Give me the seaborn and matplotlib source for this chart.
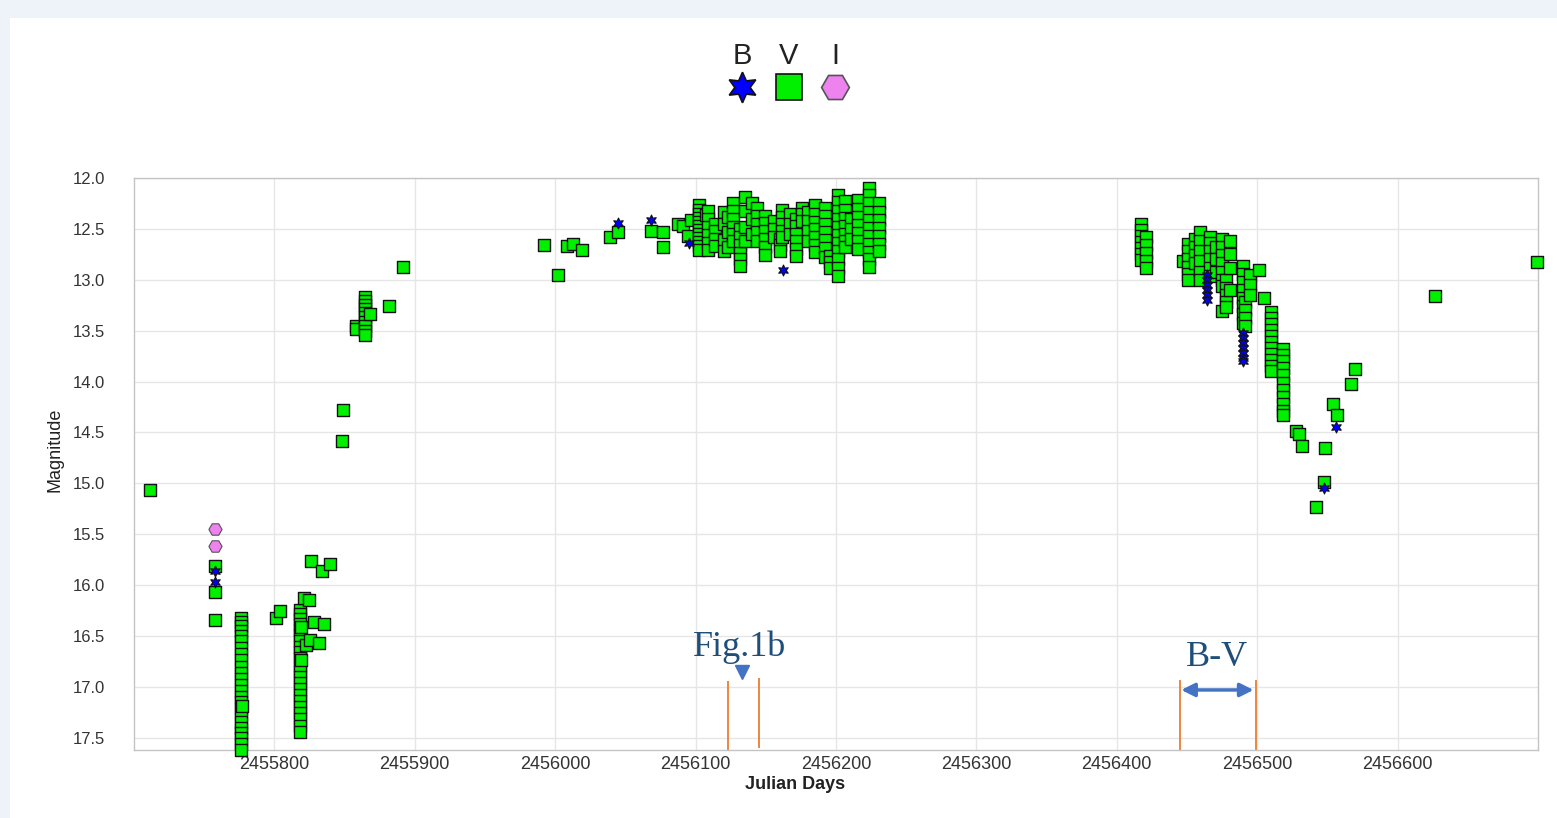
import matplotlib
matplotlib.use("Agg")
import matplotlib.pyplot as plt
import pandas as pd
import seaborn as sns
from matplotlib.patches import Rectangle
from matplotlib.ticker import FixedLocator, FixedFormatter

# ---------------- photometry (Julian Day, magnitude) ----------------
# V band, grouped by night: one JD per night and the magnitudes measured that night
v_2011_jd = [2455711.7, 2455758.0, 2455776.3, 2455777.2, 2455801.4, 2455803.8,
             2455818.0, 2455819.2, 2455820.9, 2455822.8, 2455824.4, 2455825.6,
             2455826.3, 2455828.0, 2455831.5, 2455834.0, 2455835.6, 2455839.9,
             2455848.2, 2455848.9, 2455858.4, 2455864.8, 2455867.8, 2455881.6,
             2455891.3]
v_2011_mag = [[15.07], [15.81, 16.07, 16.34],
              [16.32, 16.36, 16.40, 16.45, 16.50, 16.55, 16.62, 16.68, 16.74, 16.80,
               16.86, 16.92, 16.98, 17.04, 17.10, 17.15, 17.22, 17.28, 17.34, 17.40,
               17.45, 17.50, 17.56, 17.62],
              [17.19], [16.32], [16.25],
              [16.24, 16.28, 16.33, 16.38, 16.44, 16.49, 16.55, 16.61, 16.66, 16.72,
               16.78, 16.84, 16.90, 16.96, 17.02, 17.08, 17.14, 17.20, 17.26, 17.32,
               17.38, 17.44],
              [16.41, 16.74], [16.13], [16.59], [16.15], [16.54], [15.76], [16.36],
              [16.57], [15.86], [16.38], [15.79], [14.58], [14.28], [13.45, 13.48],
              [13.17, 13.21, 13.25, 13.29, 13.33, 13.37, 13.41, 13.45, 13.50, 13.54],
              [13.34], [13.26], [12.87]]

v_2012_jd = [2455991.7, 2456002.3, 2456008.3, 2456012.6, 2456019.4, 2456039.1,
             2456045.0, 2456068.1, 2456076.6, 2456077.1, 2456087.3, 2456091.3,
             2456094.9, 2456096.8, 2456102.5, 2456107.5, 2456108.5, 2456114.0,
             2456120.0, 2456123.0, 2456126.7, 2456131.6, 2456135.5, 2456140.5,
             2456143.8, 2456149.5, 2456156.0, 2456160.0, 2456161.5, 2456167.0,
             2456171.5, 2456175.8, 2456180.0, 2456185.0, 2456192.2, 2456195.7,
             2456201.4, 2456206.4, 2456211.0, 2456215.7, 2456223.5, 2456230.6]
v_2012_mag = [[12.66], [12.95], [12.67], [12.65], [12.71], [12.58], [12.53], [12.52],
              [12.53], [12.68], [12.45], [12.47], [12.57], [12.41],
              [12.27, 12.31, 12.35, 12.39, 12.43, 12.47, 12.51, 12.55, 12.59, 12.63,
               12.67, 12.71],
              [12.36],
              [12.32, 12.40, 12.48, 12.56, 12.64, 12.71],
              [12.45, 12.52, 12.60, 12.67],
              [12.33, 12.45, 12.61, 12.72],
              [12.38, 12.53, 12.68],
              [12.25, 12.32, 12.40, 12.48, 12.55, 12.62],
              [12.50, 12.58, 12.66, 12.74, 12.80, 12.86],
              [12.19, 12.32, 12.48, 12.62],
              [12.25, 12.40, 12.55],
              [12.29, 12.37, 12.45, 12.53, 12.62],
              [12.37, 12.44, 12.52, 12.60, 12.68, 12.76],
              [12.42, 12.50, 12.58],
              [12.60, 12.66, 12.72],
              [12.31, 12.38, 12.45, 12.52, 12.58],
              [12.35, 12.45, 12.55],
              [12.40, 12.47, 12.55, 12.62, 12.70, 12.77],
              [12.29, 12.35, 12.42],
              [12.33, 12.42, 12.52, 12.62],
              [12.27, 12.35, 12.43, 12.50, 12.58, 12.66, 12.73],
              [12.29, 12.37, 12.45, 12.53, 12.61, 12.69, 12.78],
              [12.77, 12.83, 12.88],
              [12.17, 12.24, 12.32, 12.40, 12.48, 12.56, 12.64, 12.72, 12.80, 12.88,
               12.96],
              [12.23, 12.31, 12.39, 12.47, 12.55, 12.62, 12.68],
              [12.40, 12.50, 12.60],
              [12.22, 12.30, 12.38, 12.46, 12.54, 12.62, 12.70],
              [12.10, 12.17, 12.25, 12.33, 12.41, 12.49, 12.57, 12.65, 12.73, 12.80,
               12.87],
              [12.25, 12.33, 12.41, 12.49, 12.57, 12.65, 12.72]]

v_2013_jd = [2456416.9, 2456421.1, 2456447.2, 2456450.7, 2456455.5, 2456459.3,
             2456466.5, 2456470.5, 2456475.0, 2456477.5, 2456480.4, 2456490.0,
             2456491.5, 2456495.0, 2456501.4, 2456505.0, 2456509.6, 2456518.2,
             2456527.9, 2456529.7, 2456532.2, 2456541.6, 2456547.6, 2456548.5,
             2456553.9, 2456556.8, 2456566.5, 2456569.6, 2456626.3, 2456699.6]
v_2013_mag = [[12.45, 12.51, 12.57, 12.63, 12.69, 12.75, 12.81],
              [12.58, 12.66, 12.74, 12.82, 12.88],
              [12.82],
              [12.65, 12.72, 12.80, 12.87, 12.94, 13.00],
              [12.60, 12.68, 12.76, 12.84],
              [12.53, 12.62, 12.72, 12.82, 12.92, 13.00],
              [12.58, 12.64, 12.72, 12.80, 12.88, 12.96],
              [12.68, 12.80, 12.92],
              [12.60, 12.68, 12.76, 12.84, 12.92, 13.00, 13.06, 13.31],
              [13.00, 13.08, 13.15, 13.22, 13.27],
              [12.62, 12.75, 12.88, 13.10],
              [12.86, 12.94, 13.02, 13.10, 13.18, 13.26, 13.34, 13.42],
              [13.22, 13.30, 13.38, 13.45],
              [12.95, 13.05, 13.15],
              [12.90], [13.18],
              [13.32, 13.38, 13.43, 13.49, 13.55, 13.61, 13.67, 13.73, 13.79, 13.85,
               13.90],
              [13.68, 13.74, 13.80, 13.87, 13.94, 14.01, 14.08, 14.15, 14.22, 14.29,
               14.33],
              [14.49], [14.52], [14.63], [15.23], [14.99], [14.65], [14.22], [14.33],
              [14.02], [13.88], [13.16], [12.83]]

# B band
b_jd = [2455758.0, 2456045.0, 2456068.1, 2456095.6, 2456162.5, 2456464.5,
        2456489.8, 2456547.6, 2456556.4]
b_mag = [[15.86, 15.97], [12.44], [12.41], [12.64], [12.90],
         [12.95, 13.00, 13.05, 13.10, 13.15, 13.20],
         [13.52, 13.57, 13.62, 13.67, 13.72, 13.77, 13.80],
         [15.05], [14.45]]

# I band
i_jd = [2455758.0]
i_mag = [[15.45, 15.62]]

x_ticks = [2455800, 2455900, 2456000, 2456100, 2456200, 2456300, 2456400,
           2456500, 2456600]
y_ticks = [12.0, 12.5, 13.0, 13.5, 14.0, 14.5, 15.0, 15.5, 16.0, 16.5, 17.0, 17.5]
bands = ["B", "V", "I"]

# Annotated windows
fig1b_window = [2456123.1, 2456145.0]
fig1b_marker = (2456133.2, 16.85)
bv_window = [2456445.0, 2456499.2]


def nightly_frame(nights, mags, band):
    rows = [(jd, m) for jd, ms in zip(nights, mags) for m in ms]
    df = pd.DataFrame(rows, columns=["JD", "Magnitude"])
    df["Band"] = band
    return df


v_df = pd.concat([nightly_frame(v_2011_jd, v_2011_mag, "V"),
                  nightly_frame(v_2012_jd, v_2012_mag, "V"),
                  nightly_frame(v_2013_jd, v_2013_mag, "V")], ignore_index=True)
b_df = nightly_frame(b_jd, b_mag, "B")
i_df = nightly_frame(i_jd, i_mag, "I")

# ---------------- styling ----------------
sns.set_theme(style="whitegrid")
plt.rcParams["font.family"] = ["Liberation Sans", "DejaVu Sans"]

W, H = 1557, 818
fig = plt.figure(figsize=(W / 100, H / 100), dpi=100, facecolor="#eef2f9")

# page backdrop + legend layer in pixel coordinates
bg = fig.add_axes([0, 0, 1, 1], zorder=-5)
bg.set_xlim(0, W)
bg.set_ylim(H, 0)
bg.axis("off")
bg.add_patch(Rectangle((10, 18), W - 10, H - 18, facecolor="white", edgecolor="none"))

STAR = (6, 1, 0)
band_style = {
    "B": dict(marker=STAR, color="#0000ff", edgecolor="#111111"),
    "V": dict(marker="s", color="#00f000", edgecolor="#111111"),
    "I": dict(marker="H", color="#ee82ee", edgecolor="#555555"),
}

leg_x = {"B": 742, "V": 789, "I": 835}
leg_size = {"B": 22, "V": 19, "I": 20}
for b in bands:
    st = band_style[b]
    bg.plot(leg_x[b], 87, marker=st["marker"], markersize=leg_size[b],
            markerfacecolor=st["color"], markeredgecolor=st["edgecolor"],
            markeredgewidth=1.2, linestyle="none")
    bg.text(leg_x[b], 56, b, ha="center", va="center", fontsize=21, color="#222222")

ax = fig.add_axes([134 / W, 1 - 750 / H, 1404 / W, (750 - 178) / H])
ax.set_facecolor("white")

sns.scatterplot(data=v_df, x="JD", y="Magnitude", ax=ax, marker="s", s=82,
                color=band_style["V"]["color"], edgecolor=band_style["V"]["edgecolor"],
                linewidth=1.0, clip_on=False, zorder=3, legend=False)
sns.scatterplot(data=b_df, x="JD", y="Magnitude", ax=ax, marker=STAR, s=62,
                color=band_style["B"]["color"], edgecolor=band_style["B"]["edgecolor"],
                linewidth=0.8, clip_on=False, zorder=4, legend=False)
sns.scatterplot(data=i_df, x="JD", y="Magnitude", ax=ax, marker="H", s=90,
                color=band_style["I"]["color"], edgecolor=band_style["I"]["edgecolor"],
                linewidth=0.8, clip_on=False, zorder=4, legend=False)

ax.set_xlim(2455700, 2456700)
ax.set_ylim(17.62, 12.0)

ax.xaxis.set_major_locator(FixedLocator(x_ticks))
ax.xaxis.set_major_formatter(FixedFormatter([str(t) for t in x_ticks]))
ax.yaxis.set_major_locator(FixedLocator(y_ticks))
ax.yaxis.set_major_formatter(FixedFormatter([f"{t:.1f}" for t in y_ticks]))

ax.grid(True, color="#e6e6e6", linewidth=1.0)
for sp in ax.spines.values():
    sp.set_color("#c4c4c4")
    sp.set_linewidth(1.0)
ax.tick_params(axis="x", length=0, pad=4, labelsize=13, labelcolor="#333333")
ax.tick_params(axis="y", length=4, width=1, color="#dddddd", pad=17,
               labelsize=12, labelcolor="#333333")

ax.set_xlabel("Julian Days", fontsize=13, fontweight="bold", color="#222222")
ax.set_ylabel("Magnitude", fontsize=13, color="#222222")
ax.xaxis.set_label_coords(0.471, -0.046)
ax.yaxis.set_label_coords(-0.05, 0.525)

# annotated windows
orange = "#ed7d31"
note_blue = "#4472c4"
ax.vlines(fig1b_window[0], 16.94, 17.62, color=orange, linewidth=1.3, zorder=2)
ax.vlines(fig1b_window[1], 16.91, 17.60, color=orange, linewidth=1.3, zorder=2)
ax.vlines(bv_window, 16.93, 17.62, color=orange, linewidth=1.3, zorder=2)

ax.plot(*fig1b_marker, marker="v", markersize=10, color=note_blue, zorder=5)
ax.text(2456131.5, 16.70, "Fig.1b", ha="center", va="baseline",
        family=["Liberation Serif", "DejaVu Serif"], fontsize=26, color="#1f4e79")

ax.annotate("", xy=(bv_window[1] - 1.8, 17.03), xytext=(bv_window[0] + 0.9, 17.03),
            arrowprops=dict(arrowstyle="<|-|>", color=note_blue, lw=2.5,
                            mutation_scale=20, shrinkA=0, shrinkB=0), zorder=5)
ax.text(2456471.5, 16.79, "B-V", ha="center", va="baseline",
        family=["Liberation Serif", "DejaVu Serif"], fontsize=26, color="#1f4e79")

fig.savefig("out.png", dpi=100, facecolor=fig.get_facecolor())
